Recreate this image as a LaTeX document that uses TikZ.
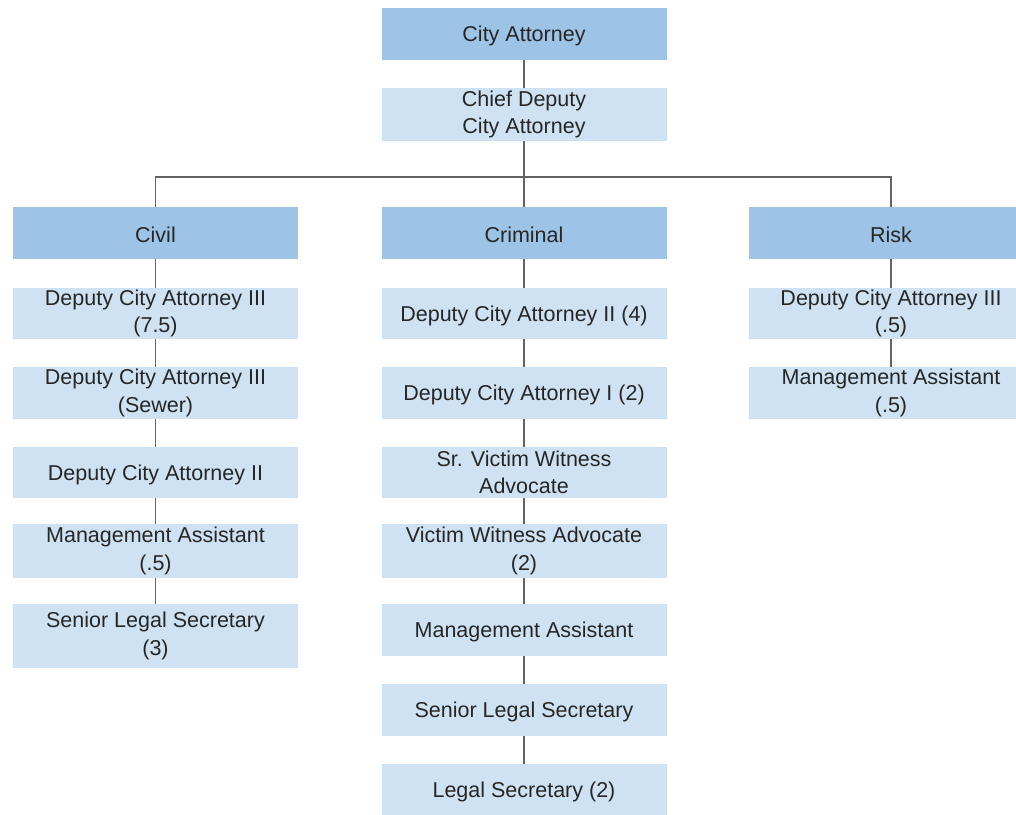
\documentclass[tikz,border=0pt]{standalone}
\usepackage{fontspec}
\setmainfont{Liberation Sans}
\definecolor{headblue}{RGB}{157,195,230}
\definecolor{rowblue}{RGB}{207,226,243}
\definecolor{linkgray}{RGB}{100,100,100}
\definecolor{txt}{RGB}{38,38,38}
\begin{document}
\begin{tikzpicture}[x=1pt,y=-1pt,
  box/.style={minimum width=285pt,inner sep=0pt,align=center,text=txt,
    font=\fontsize{21.5}{27.5}\selectfont,
    execute at begin node={\rule{0pt}{19.8pt}}},
  head/.style={box,fill=headblue,minimum height=52pt},
  post/.style={box,fill=rowblue},
  link/.style={draw=linkgray,line width=1.3pt}]
\useasboundingbox (0,0) rectangle (1016,814);
\begin{scope}
\clip (0,0) rectangle (1016,814);
% top of the chart
\node[head] (ca) at (524,34) {City Attorney};
\node[post,minimum height=53pt] (cd) at (524,114.5) {Chief Deputy\\City Attorney};
% divisions
\node[head] (civil) at (155.5,233) {Civil};
\node[head] (crim) at (524,233) {Criminal};
\node[head] (risk) at (891,233) {Risk};
\coordinate (bar) at (524,177);
% civil division
\node[post,minimum height=51pt] (c1) at (155.5,313.5) {Deputy City Attorney III\\(7.5)};
\node[post,minimum height=52pt] (c2) at (155.5,393) {Deputy City Attorney III\\(Sewer)};
\node[post,minimum height=51pt] (c3) at (155.5,472.5) {Deputy City Attorney II};
\node[post,minimum height=54pt] (c4) at (155.5,551) {Management Assistant\\(.5)};
\node[post,minimum height=64pt] (c5) at (155.5,636) {Senior Legal Secretary\\(3)};
% criminal division
\node[post,minimum height=51pt] (k1) at (524,313.5) {Deputy City Attorney II (4)};
\node[post,minimum height=52pt] (k2) at (524,393) {Deputy City Attorney I (2)};
\node[post,minimum height=51pt] (k3) at (524,472.5) {Sr. Victim Witness\\Advocate};
\node[post,minimum height=54pt] (k4) at (524,551) {Victim Witness Advocate\\(2)};
\node[post,minimum height=52pt] (k5) at (524,630) {Management Assistant};
\node[post,minimum height=52pt] (k6) at (524,710) {Senior Legal Secretary};
\node[post,minimum height=52pt] (k7) at (524,790) {Legal Secretary (2)};
% risk division
\node[post,minimum height=51pt] (r1) at (891,313.5) {Deputy City Attorney III\\(.5)};
\node[post,minimum height=52pt] (r2) at (891,393) {Management Assistant\\(.5)};
% connectors
\draw[link] (ca.south) -- (cd.north);
\draw[link] (cd.south) -- (crim.north);
\draw[link] (civil.north) |- (bar) -| (risk.north);
\draw[link] (civil.south) -- (c1.north);
\draw[link] (c1.south) -- (c2.north);
\draw[link] (c2.south) -- (c3.north);
\draw[link] (c3.south) -- (c4.north);
\draw[link] (c4.south) -- (c5.north);
\draw[link] (crim.south) -- (k1.north);
\draw[link] (k1.south) -- (k2.north);
\draw[link] (k2.south) -- (k3.north);
\draw[link] (k3.south) -- (k4.north);
\draw[link] (k4.south) -- (k5.north);
\draw[link] (k5.south) -- (k6.north);
\draw[link] (k6.south) -- (k7.north);
\draw[link] (risk.south) -- (r1.north);
\draw[link] (r1.south) -- (r2.north);
\end{scope}
\end{tikzpicture}
\end{document}
